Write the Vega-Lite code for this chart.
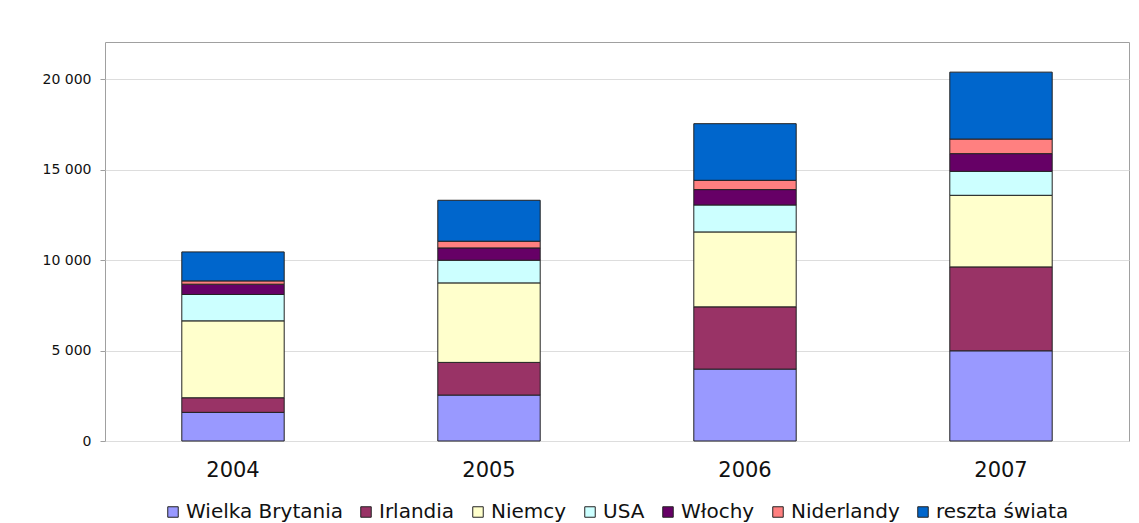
{
  "$schema": "https://vega.github.io/schema/vega-lite/v6.json",
  "autosize": "none",
  "width": 1024,
  "height": 399,
  "padding": {"left": 105, "top": 42, "right": 10, "bottom": 82},
  "background": "white",
  "config": {
    "view": {"stroke": "#a0a0a0", "strokeWidth": 1},
    "font": "DejaVu Sans"
  },
  "data": {
    "values": [
      {"rok": "2004", "kraj": "Wielka Brytania", "o": 1, "v": 1585},
      {"rok": "2004", "kraj": "Irlandia", "o": 2, "v": 807},
      {"rok": "2004", "kraj": "Niemcy", "o": 3, "v": 4254},
      {"rok": "2004", "kraj": "USA", "o": 4, "v": 1459},
      {"rok": "2004", "kraj": "Włochy", "o": 5, "v": 569},
      {"rok": "2004", "kraj": "Niderlandy", "o": 6, "v": 182},
      {"rok": "2004", "kraj": "reszta świata", "o": 7, "v": 1603},
      {"rok": "2005", "kraj": "Wielka Brytania", "o": 1, "v": 2541},
      {"rok": "2005", "kraj": "Irlandia", "o": 2, "v": 1807},
      {"rok": "2005", "kraj": "Niemcy", "o": 3, "v": 4398},
      {"rok": "2005", "kraj": "USA", "o": 4, "v": 1254},
      {"rok": "2005", "kraj": "Włochy", "o": 5, "v": 680},
      {"rok": "2005", "kraj": "Niderlandy", "o": 6, "v": 370},
      {"rok": "2005", "kraj": "reszta świata", "o": 7, "v": 2265},
      {"rok": "2006", "kraj": "Wielka Brytania", "o": 1, "v": 3978},
      {"rok": "2006", "kraj": "Irlandia", "o": 2, "v": 3442},
      {"rok": "2006", "kraj": "Niemcy", "o": 3, "v": 4144},
      {"rok": "2006", "kraj": "USA", "o": 4, "v": 1491},
      {"rok": "2006", "kraj": "Włochy", "o": 5, "v": 851},
      {"rok": "2006", "kraj": "Niderlandy", "o": 6, "v": 514},
      {"rok": "2006", "kraj": "reszta świata", "o": 7, "v": 3132},
      {"rok": "2007", "kraj": "Wielka Brytania", "o": 1, "v": 4989},
      {"rok": "2007", "kraj": "Irlandia", "o": 2, "v": 4641},
      {"rok": "2007", "kraj": "Niemcy", "o": 3, "v": 3961},
      {"rok": "2007", "kraj": "USA", "o": 4, "v": 1326},
      {"rok": "2007", "kraj": "Włochy", "o": 5, "v": 978},
      {"rok": "2007", "kraj": "Niderlandy", "o": 6, "v": 807},
      {"rok": "2007", "kraj": "reszta świata", "o": 7, "v": 3701}
    ]
  },
  "mark": {"type": "bar", "stroke": "#222222", "strokeWidth": 1},
  "encoding": {
    "x": {
      "field": "rok", "type": "nominal",
      "scale": {"paddingInner": 0.6, "paddingOuter": 0.3},
      "axis": {
        "title": null, "labelAngle": 0, "labelFontSize": 21, "labelColor": "#111",
        "ticks": false, "domain": false, "labelPadding": 18
      }
    },
    "y": {
      "field": "v", "type": "quantitative", "stack": "zero",
      "scale": {"domain": [0, 22070], "nice": false},
      "axis": {
        "title": null, "values": [0, 5000, 10000, 15000, 20000],
        "labelExpr": "replace(format(datum.value, ','), ',', ' ')",
        "labelFontSize": 14, "labelColor": "#111", "tickSize": 5, "tickColor": "#a0a0a0",
        "labelPadding": 9, "domain": false, "gridColor": "#dddddd"
      }
    },
    "order": {"field": "o", "type": "quantitative"},
    "color": {
      "field": "kraj", "type": "nominal",
      "scale": {
        "domain": ["Wielka Brytania", "Irlandia", "Niemcy", "USA", "Włochy", "Niderlandy", "reszta świata"],
        "range": ["#9999FF", "#993366", "#FFFFCC", "#CCFFFF", "#660066", "#FF8080", "#0066CC"]
      },
      "legend": {
        "title": null, "orient": "none", "direction": "horizontal",
        "legendX": 58, "legendY": 460,
        "symbolType": "square", "symbolSize": 110, "symbolStrokeColor": "#222",
        "symbolStrokeWidth": 1, "labelFontSize": 20, "labelColor": "#111",
        "columnPadding": 13, "labelOffset": 3, "symbolOpacity": 1
      }
    }
  }
}
